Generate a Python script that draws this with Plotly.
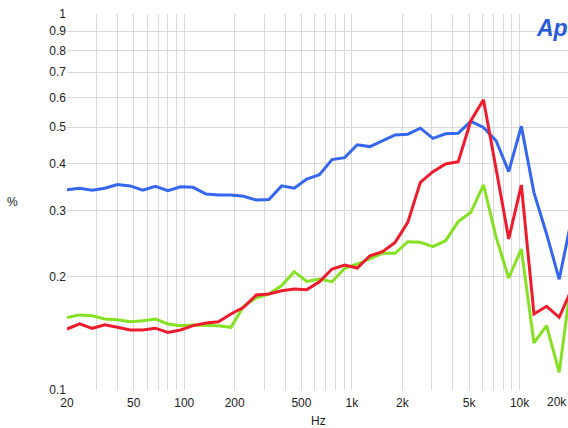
import math
import plotly.graph_objects as go

# Frequencies (Hz), quarter-octave steps
freq_hz = [20, 23.8, 28.3, 33.6, 40, 47.6, 56.6, 67.3, 80, 95.1, 113, 135, 160, 190,
           226, 269, 320, 381, 453, 538, 640, 761, 905, 1076, 1280, 1522, 1810, 2153,
           2560, 3044, 3620, 4305, 5120, 6089, 7241, 8611, 10240, 12177, 14482, 17222, 20480]

# THD+N (%) per series
blue_pct = [0.341, 0.344, 0.340, 0.344, 0.352, 0.349, 0.340, 0.348, 0.339, 0.347, 0.346,
            0.332, 0.330, 0.330, 0.3275, 0.320, 0.321, 0.349, 0.344, 0.364, 0.374, 0.410,
            0.415, 0.449, 0.444, 0.460, 0.477, 0.479, 0.497, 0.467, 0.480, 0.482, 0.518,
            0.499, 0.460, 0.381, 0.503, 0.335, 0.260, 0.197, 0.287]

red_pct = [0.1453, 0.150, 0.1459, 0.149, 0.1468, 0.1444, 0.1444, 0.146, 0.1423, 0.1444,
           0.1483, 0.1508, 0.1519, 0.1593, 0.166, 0.179, 0.180, 0.1837, 0.1856, 0.1849,
           0.1941, 0.2098, 0.215, 0.2111, 0.2276, 0.2332, 0.247, 0.2792, 0.3566, 0.3808,
           0.3991, 0.4048, 0.5202, 0.5918, 0.387, 0.2521, 0.3509, 0.1593, 0.167, 0.156, 0.186]

green_pct = [0.1558, 0.1584, 0.1576, 0.1544, 0.1538, 0.1519, 0.1529, 0.1544, 0.1498, 0.1483,
             0.1489, 0.1489, 0.1483, 0.1468, 0.167, 0.176, 0.180, 0.1895, 0.2064, 0.1945,
             0.1973, 0.1941, 0.2107, 0.2163, 0.223, 0.231, 0.231, 0.248, 0.247, 0.2405,
             0.2495, 0.2804, 0.2969, 0.351, 0.255, 0.1986, 0.237, 0.1334, 0.1483, 0.1114, 0.20]

# Axis ticks
x_tickvals = [20, 30, 40, 50, 60, 70, 80, 90, 100, 200, 300, 400, 500, 600, 700, 800, 900,
              1000, 2000, 3000, 4000, 5000, 6000, 7000, 8000, 9000, 10000, 20000]
x_ticktext = ["20", "", "", "50", "", "", "", "", "100", "200", "", "", "500", "", "", "", "",
              "1k", "2k", "", "", "5k", "", "", "", "", "10k", ""]
y_tickvals = [0.1, 0.2, 0.3, 0.4, 0.5, 0.6, 0.7, 0.8, 0.9, 1]
y_ticktext = ["0.1", "0.2", "0.3", "0.4", "0.5", "0.6", "0.7", "0.8", "0.9", "1"]

FONT = "Liberation Sans, Arial, sans-serif"
fig = go.Figure()
for vals, col in [(blue_pct, "#3566ee"), (green_pct, "#86e024"), (red_pct, "#ec1c2e")]:
    fig.add_trace(go.Scatter(x=freq_hz, y=vals, mode="lines",
                             line=dict(color=col, width=3), hoverinfo="skip"))

W, H = 568, 428
L, T, R, B = 67, 14, 0, 428 - 390
pw = W - L - R
ph = H - T - B


def px(wx):
    return (wx - L) / pw


def py(wy):
    return (H - B - wy) / ph


fig.update_layout(
    width=W, height=H,
    margin=dict(l=L, r=R, t=T, b=B, autoexpand=False),
    plot_bgcolor="white", paper_bgcolor="white",
    showlegend=False,
    font=dict(family=FONT, size=12, color="#222"),
    xaxis=dict(type="log", range=[math.log10(20), math.log10(20) + pw / 167.7],
               tickmode="array", tickvals=x_tickvals, ticktext=x_ticktext,
               showgrid=True, gridcolor="#d9d9d9", gridwidth=1, zeroline=False,
               showline=False, ticks="", automargin=False, ticklabelstandoff=4,
               tickfont=dict(size=12, color="#222")),
    yaxis=dict(type="log", range=[-1, 0],
               tickmode="array", tickvals=y_tickvals, ticktext=y_ticktext,
               showgrid=True, gridcolor="#d9d9d9", gridwidth=1, zeroline=False,
               showline=False, ticks="", automargin=False,
               tickfont=dict(size=12, color="#222")),
    annotations=[
        dict(text="%", xref="paper", yref="paper", x=px(12), y=py(202),
             xanchor="center", yanchor="middle",
             showarrow=False, font=dict(size=12, color="#222")),
        dict(text="Hz", xref="paper", yref="paper", x=px(318), y=py(421),
             xanchor="center", yanchor="middle",
             showarrow=False, font=dict(size=12, color="#222")),
        dict(text="20k", xref="paper", yref="paper", x=px(557), y=py(402),
             xanchor="center", yanchor="middle",
             showarrow=False, font=dict(size=12, color="#222")),
        dict(text="<b><i>Ap</i></b>", xref="paper", yref="paper", x=px(534),
             y=py(28), xanchor="left", yanchor="middle", showarrow=False,
             font=dict(size=23, color="#2a5bd7", family=FONT)),
    ],
)

fig.write_html("out.html",
               config={"displayModeBar": False},
               post_script="document.body.style.margin='0';"
                           "document.body.style.overflow='hidden';")
